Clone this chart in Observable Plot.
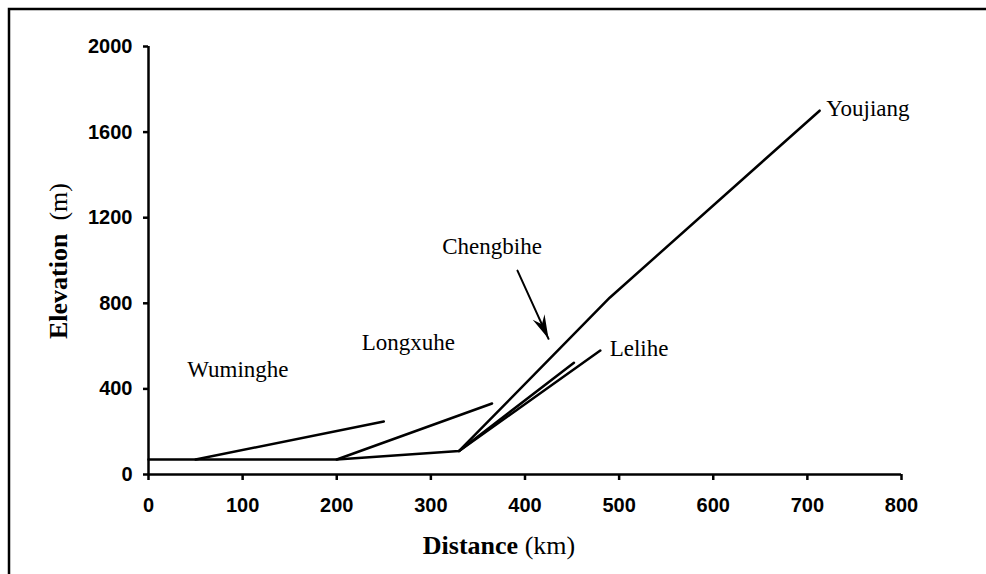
<!DOCTYPE html>
<html>
<head>
<meta charset="utf-8">
<script src="https://cdn.jsdelivr.net/npm/d3@7"></script>
<script src="https://cdn.jsdelivr.net/npm/@observablehq/plot@0.6"></script>
<style>
  html, body { margin: 0; padding: 0; background: #fff; }
  #chart { width: 986px; height: 574px; overflow: hidden; }
</style>
</head>
<body>
<div id="chart"></div>
<script>
// ---- data ----
const xTicks = [0, 100, 200, 300, 400, 500, 600, 700, 800];
const yTicks = [0, 400, 800, 1200, 1600, 2000];

const riverNames = ["Youjiang", "Wuminghe", "Longxuhe", "Chengbihe", "Lelihe"];
const riverDist = [
  [0, 200, 330, 490, 713],
  [50, 250],
  [200, 365],
  [330, 452],
  [330, 480]
];
const riverElev = [
  [70, 70, 110, 826, 1700],
  [70, 248],
  [70, 332],
  [110, 522],
  [110, 579]
];

const labelText = ["Youjiang", "Lelihe", "Chengbihe", "Longxuhe", "Wuminghe"];
const labelDist = [720, 490, 365, 276, 95];
const labelElev = [1710, 589, 1067, 614, 490];
const labelAnchor = ["start", "start", "middle", "middle", "middle"];

const arrowDist = [392, 425];
const arrowElev = [953, 634];

const xTitleBold = "Distance", xTitleUnit = " (km)";
const yTitleBold = "Elevation", yTitleUnit = "\u00a0\u00a0(m)";

// ---- tables ----
const lineRows = riverNames.flatMap((name, i) =>
  riverDist[i].map((d, j) => ({river: name, x: d, y: riverElev[i][j]})));
const labelRows = labelText.map((t, i) => ({t, x: labelDist[i], y: labelElev[i], a: labelAnchor[i]}));
const arrowRows = arrowDist.map((d, i) => ({x: d, y: arrowElev[i]}));

const sans = "'Liberation Sans', Arial, sans-serif";
const serif = "'Liberation Serif', 'Times New Roman', serif";

// filled, notched arrow head
function filledHead(color, context) {
  const m = d3.create("svg:marker")
    .attr("viewBox", "-26 -8 28 16")
    .attr("markerWidth", 28)
    .attr("markerHeight", 16)
    .attr("markerUnits", "userSpaceOnUse")
    .attr("refX", 0)
    .attr("refY", 0)
    .attr("orient", "auto");
  m.append("path").attr("d", "M-24,-6.5L0,0L-24,6.5L-16,0Z").attr("fill", color).attr("stroke", "none");
  return m.node();
}

const plot = Plot.plot({
  width: 986,
  height: 574,
  marginLeft: 148,
  marginRight: 85,
  marginTop: 46,
  marginBottom: 100,
  style: {background: "#fff", color: "#000"},
  x: {domain: [0, 800], ticks: xTicks},
  y: {domain: [0, 2000], ticks: yTicks},
  marks: [
    Plot.axisX({ticks: xTicks, tickSize: 6, tickPadding: 17, tickFormat: d => String(d),
      label: null, fontSize: 20, fontWeight: "bold", fontFamily: sans, strokeWidth: 2.5}),
    Plot.axisY({ticks: yTicks, tickSize: 5, tickPadding: 11, tickFormat: d => String(d),
      label: null, fontSize: 20, fontWeight: "bold", fontFamily: sans, strokeWidth: 2.5}),
    Plot.ruleX([0], {y1: 0, y2: 2000, strokeWidth: 2.5}),
    Plot.ruleY([0], {x1: 0, x2: 800, strokeWidth: 2.5}),
    Plot.line(lineRows, {x: "x", y: "y", z: "river", stroke: "#000", strokeWidth: 2.5}),
    Plot.text(labelRows.filter(d => d.a === "start"), {x: "x", y: "y", text: "t", textAnchor: "start",
      lineAnchor: "middle", fontSize: 23, fontFamily: serif, fill: "#000"}),
    Plot.text(labelRows.filter(d => d.a === "middle"), {x: "x", y: "y", text: "t", textAnchor: "middle",
      lineAnchor: "middle", fontSize: 23, fontFamily: serif, fill: "#000"}),
    Plot.line(arrowRows, {x: "x", y: "y", stroke: "#000", strokeWidth: 2, markerEnd: filledHead})
  ]
});

const svg = d3.select(plot);
// frame (top and left edges visible in the picture)
svg.append("path").attr("d", "M9,574V9H986").attr("fill", "none").attr("stroke", "#000").attr("stroke-width", 2.5);

// x title
const xt = svg.append("text").attr("x", 499).attr("y", 554).attr("text-anchor", "middle")
  .attr("font-family", serif).attr("font-size", 26).attr("fill", "#000");
xt.append("tspan").attr("font-weight", "bold").text(xTitleBold);
xt.append("tspan").text(xTitleUnit);

// y title
const yt = svg.append("text").attr("transform", "translate(67,261) rotate(-90)").attr("text-anchor", "middle")
  .attr("font-family", serif).attr("font-size", 26).attr("fill", "#000");
yt.append("tspan").attr("font-weight", "bold").text(yTitleBold);
yt.append("tspan").text(yTitleUnit);

document.getElementById("chart").append(plot);
</script>
</body>
</html>
